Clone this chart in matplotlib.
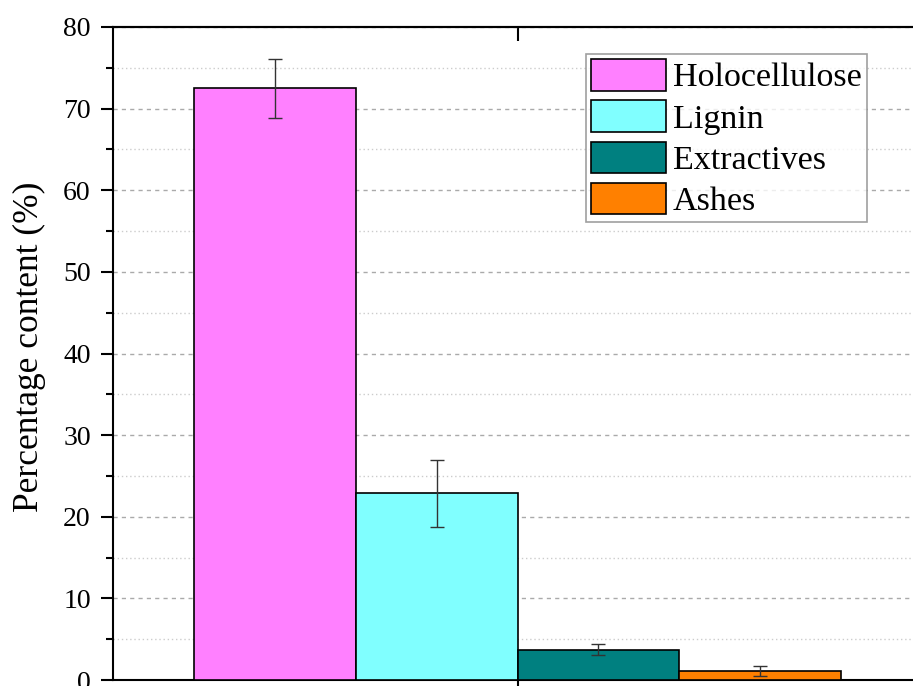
import matplotlib
matplotlib.use("Agg")
import matplotlib.pyplot as plt
from matplotlib.ticker import MultipleLocator

# Data
components = ["Holocellulose", "Lignin", "Extractives", "Ashes"]
content = [72.5, 22.9, 3.7, 1.1]
errors = [3.6, 4.1, 0.65, 0.6]
colors = ["#FF80FF", "#80FFFF", "#008080", "#FF8000"]

plt.rcParams["font.family"] = ["Liberation Serif", "DejaVu Serif"]

fig = plt.figure(figsize=(9.13, 6.86), dpi=100)
# the right part of the axes runs slightly past the figure edge, like the source
ax = fig.add_axes([113 / 913, 6 / 686, 809 / 913, 653 / 686])

positions = [-2 + i for i in range(len(components))]
handles = []
for pos, val, err, col, name in zip(positions, content, errors, colors, components):
    b = ax.bar(pos, val, width=1.0, align="edge", color=col,
               edgecolor="black", linewidth=1.2, label=name, zorder=3)
    ax.errorbar(pos + 0.5, val, yerr=err, fmt="none", ecolor="#333333",
                elinewidth=1.0, capsize=5, capthick=1.0, zorder=4)
    handles.append(b)

ax.set_xlim(-2.5, 2.5)
ax.set_ylim(0, 80)
ax.set_xticks([0])
ax.set_xticklabels([])
ax.yaxis.set_major_locator(MultipleLocator(10))
ax.yaxis.set_minor_locator(MultipleLocator(5))

ax.grid(axis="y", which="major", linestyle=(0, (3, 3)), color="#aaaaaa",
        linewidth=1.0, zorder=0)
ax.grid(axis="y", which="minor", linestyle=(0, (1, 2)), color="#cccccc",
        linewidth=1.0, zorder=0)

for s in ax.spines.values():
    s.set_linewidth(1.5)

ax.tick_params(axis="y", which="major", direction="out", length=9, width=1.5,
               labelsize=20, right=True, pad=7)
ax.tick_params(axis="y", which="minor", direction="out", length=5, width=1.5,
               right=True)
ax.tick_params(axis="x", which="major", direction="out", length=10, width=1.5)

# top axis carries a single inward tick at the middle
top = ax.secondary_xaxis("top")
top.set_xticks([0])
top.set_xticklabels([])
top.tick_params(direction="in", length=10, width=1.5)
top.spines["top"].set_linewidth(1.5)

ax.set_ylabel("Percentage content (%)", fontsize=25.5)
ax.yaxis.set_label_coords(-0.083, 0.51)

leg = ax.legend(handles=handles, loc="upper left",
                bbox_to_anchor=(586 / 913, 1 - 54 / 686),
                bbox_transform=fig.transFigure, fontsize=24.5,
                frameon=True, fancybox=False, edgecolor="#888888",
                handlelength=2.2, handleheight=1.05, handletextpad=0.2,
                labelspacing=0.2, borderpad=0.15, borderaxespad=0)
leg.get_frame().set_linewidth(1.2)

fig.savefig("out.png", dpi=100)
